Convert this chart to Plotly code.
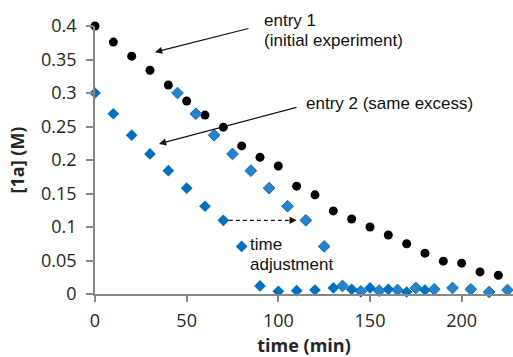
import plotly.graph_objects as go

# entry 1 (initial experiment): [1a] vs time
t_entry1 = [0, 10, 20, 30, 40, 50, 60, 70, 80, 90, 100, 110, 120, 130, 140,
            150, 160, 170, 180, 190, 200, 210, 220]
c_entry1 = [0.400, 0.376, 0.355, 0.334, 0.312, 0.288, 0.267, 0.249, 0.221,
            0.204, 0.191, 0.161, 0.148, 0.124, 0.112, 0.100, 0.088, 0.075,
            0.061, 0.049, 0.046, 0.033, 0.028]

# entry 2 (same excess): [1a] vs time
t_entry2 = [0, 10, 20, 30, 40, 50, 60, 70, 80, 90, 100, 110, 120, 130, 140,
            150, 160, 170, 180]
c_entry2 = [0.300, 0.269, 0.237, 0.209, 0.184, 0.158, 0.131, 0.110, 0.071,
            0.012, 0.004, 0.005, 0.006, 0.009, 0.007, 0.009, 0.007, 0.003,
            0.006]

# entry 2 replotted after the time adjustment
time_shift = 45
t_entry2_adj = [t + time_shift for t in t_entry2]

x_ticks = [0, 50, 100, 150, 200]
y_ticks = [0, 0.05, 0.1, 0.15, 0.2, 0.25, 0.3, 0.35, 0.4]
y_tick_text = ["0", "0.05", "0.1", "0.15", "0.2", "0.25", "0.3", "0.35", "0.4"]

AXIS_GREY = "#888888"
TEXT = "#262626"
BLUE = "#0070C0"

fig = go.Figure()
fig.add_trace(go.Scatter(
    x=t_entry2, y=c_entry2, mode="markers", name="entry 2",
    marker=dict(symbol="diamond", size=9, color=BLUE, line=dict(width=0)),
    cliponaxis=False))
fig.add_trace(go.Scatter(
    x=t_entry1, y=c_entry1, mode="markers", name="entry 1",
    marker=dict(symbol="circle", size=9, color="black", line=dict(width=0)),
    cliponaxis=False))
fig.add_trace(go.Scatter(
    x=t_entry2_adj, y=c_entry2, mode="markers", name="entry 2 (adjusted)",
    marker=dict(symbol="diamond", size=9, color="#2383CC",
                line=dict(width=1, color="#1769AE")),
    cliponaxis=False))

LABEL_FONT = dict(family="Liberation Sans, Arial, sans-serif", size=17, color="#111111")


def px_to_paper(px, py):
    # figure pixel -> paper coordinates for the 418x268 plot area
    return (px - 95) / 418.0, (294 - py) / 268.0


annotations = []
for text, (px, py) in [("entry 1", (262, 20)),
                       ("(initial experiment)", (262, 40)),
                       ("entry 2 (same excess)", (304, 104)),
                       ("time", (248, 244)),
                       ("adjustment", (248, 264))]:
    xp, yp = px_to_paper(px, py)
    annotations.append(dict(text=text, x=xp, y=yp, xref="paper", yref="paper",
                            xanchor="left", yanchor="middle", showarrow=False,
                            font=LABEL_FONT))

# pointer arrows to each curve
annotations.append(dict(text="", x=32.7, y=0.361, xref="x", yref="y",
                        ax=95, ay=-24, showarrow=True, arrowhead=2,
                        arrowsize=1.2, arrowwidth=1.2, arrowcolor="#111111"))
annotations.append(dict(text="", x=34.9, y=0.224, xref="x", yref="y",
                        ax=139, ay=-37, showarrow=True, arrowhead=2,
                        arrowsize=1.2, arrowwidth=1.2, arrowcolor="#111111"))

# dashed "time adjustment" arrow between matching points
i_ref = 7
y_arrow = c_entry2[i_ref]
x_start = t_entry2[i_ref] + 3
x_end = t_entry2_adj[i_ref] - 5
fig.add_shape(type="line", xref="x", yref="y", x0=x_start, x1=x_end - 3,
              y0=y_arrow, y1=y_arrow,
              line=dict(color="#111111", width=1.2, dash="4px,3px"))
annotations.append(dict(text="", x=x_end, y=y_arrow, xref="x", yref="y",
                        ax=-8, ay=0, showarrow=True, arrowhead=2,
                        arrowsize=1.2, arrowwidth=1.2, arrowcolor="#111111"))

fig.update_layout(
    width=513, height=357,
    margin=dict(l=95, r=0, t=26, b=63),
    paper_bgcolor="white", plot_bgcolor="white",
    showlegend=False,
    annotations=annotations,
    font=dict(family="Open Sans, sans-serif", color=TEXT),
)
fig.update_xaxes(
    range=[0, 228], tickvals=x_ticks, showgrid=False, zeroline=False,
    showline=True, linecolor=AXIS_GREY, linewidth=1.5,
    ticks="outside", ticklen=6, tickwidth=1.5, tickcolor=AXIS_GREY,
    ticklabelstandoff=4,
    tickfont=dict(size=18, family="Open Sans, sans-serif", color=TEXT),
    title=dict(text="<b>time (min)</b>", standoff=10,
               font=dict(size=18, family="Open Sans, sans-serif", color=TEXT)),
)
fig.update_yaxes(
    range=[0, 0.4], tickvals=y_ticks, ticktext=y_tick_text, showgrid=False,
    zeroline=False, showline=True, linecolor=AXIS_GREY, linewidth=1.5,
    ticks="outside", ticklen=7, tickwidth=1.5, tickcolor=AXIS_GREY,
    ticklabelstandoff=6,
    tickfont=dict(size=18, family="Open Sans, sans-serif", color=TEXT),
    title=dict(text="<b>[1a] (M)</b>", standoff=12,
               font=dict(size=18, family="Open Sans, sans-serif", color=TEXT)),
)

fig.write_html("out.html")
